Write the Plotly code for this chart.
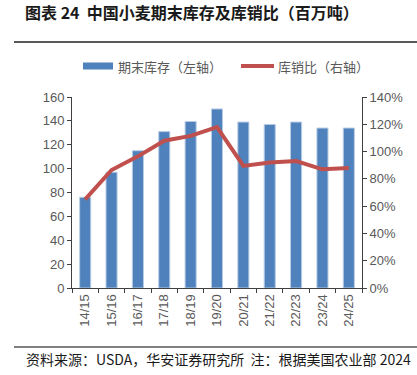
import plotly.graph_objects as go

categories = ["14/15", "15/16", "16/17", "17/18", "18/19", "19/20", "20/21", "21/22", "22/23", "23/24", "24/25"]
ending_stocks = [76, 97, 115, 131, 139.5, 150, 139, 137, 139, 134, 134]
stock_to_use = [0.65, 0.865, 0.965, 1.08, 1.115, 1.18, 0.895, 0.92, 0.93, 0.87, 0.88]

W, H = 417, 375
L, R, T, B = 72, 362, 97, 288

def px(x):
    return (x - L) / (R - L)

def py(y):
    return (B - y) / (B - T)

fig = go.Figure()
fig.add_trace(go.Bar(
    x=categories, y=ending_stocks, name="期末库存（左轴）",
    marker=dict(color="#4F81BD", line=dict(color="#B8CCE4", width=1)),
    width=0.42, yaxis="y",
))
fig.add_trace(go.Scatter(
    x=categories, y=stock_to_use, name="库销比（右轴）", mode="lines",
    line=dict(color="#C0504D", width=4), yaxis="y2",
))

tickfont = dict(family="Liberation Sans, Arial, sans-serif", size=13, color="#595959")
fig.update_layout(
    width=W, height=H,
    margin=dict(l=L, r=W - R, t=T, b=H - B),
    paper_bgcolor="white", plot_bgcolor="white",
    showlegend=False,
    bargap=0.58,
    xaxis=dict(
        type="category", tickangle=-90, tickfont=tickfont,
        showline=True, linecolor="#404040", linewidth=1,
        ticks="outside", tickson="boundaries", ticklen=4, tickcolor="#404040",
        showgrid=False, zeroline=False,
    ),
    yaxis=dict(
        range=[0, 160], dtick=20, tickfont=tickfont,
        showline=True, linecolor="#404040", linewidth=1,
        ticks="outside", ticklen=4, tickcolor="#404040",
        showgrid=False, zeroline=False,
    ),
    yaxis2=dict(
        range=[0, 1.4], dtick=0.2, tickformat=".0%", tickfont=tickfont,
        overlaying="y", side="right",
        showline=True, linecolor="#404040", linewidth=1,
        ticks="outside", ticklen=4, tickcolor="#404040",
        showgrid=False, zeroline=False,
    ),
)

cjk = "Noto Sans CJK SC, sans-serif"
# title
fig.add_annotation(
    x=px(24), y=py(12), xref="paper", yref="paper", xanchor="left", yanchor="middle",
    text="<b>图表 24  中国小麦期末库存及库销比（百万吨）</b>", showarrow=False,
    font=dict(family=cjk, size=16, color="#1a1a1a"), borderpad=0,
)
# title rule
fig.add_shape(type="line", xref="paper", yref="paper",
              x0=px(14), x1=px(420), y0=py(42), y1=py(42),
              line=dict(color="#595959", width=2))
# legend
fig.add_shape(type="rect", xref="paper", yref="paper",
              x0=px(83), x1=px(113), y0=py(62.5), y1=py(69.5),
              fillcolor="#4F81BD", line=dict(width=0))
fig.add_annotation(
    x=px(116), y=py(66), xref="paper", yref="paper", xanchor="left", yanchor="middle",
    text="期末库存（左轴）", showarrow=False, font=dict(family=cjk, size=13, color="#595959"),
)
fig.add_shape(type="line", xref="paper", yref="paper",
              x0=px(241), x1=px(274), y0=py(66), y1=py(66),
              line=dict(color="#C0504D", width=4))
fig.add_annotation(
    x=px(276), y=py(66), xref="paper", yref="paper", xanchor="left", yanchor="middle",
    text="库销比（右轴）", showarrow=False, font=dict(family=cjk, size=13, color="#595959"),
)
# footer rule
fig.add_shape(type="line", xref="paper", yref="paper",
              x0=px(14), x1=px(420), y0=py(347), y1=py(347),
              line=dict(color="#808080", width=2))
fig.add_annotation(
    x=px(24), y=py(359), xref="paper", yref="paper", xanchor="left", yanchor="middle",
    text="资料来源：USDA，华安证券研究所  注：根据美国农业部 2024", showarrow=False,
    font=dict(family=cjk, size=14, color="#1a1a1a"),
)

fig.write_html("out.html", config={"displayModeBar": False},
               post_script="document.body.style.margin='0';")
